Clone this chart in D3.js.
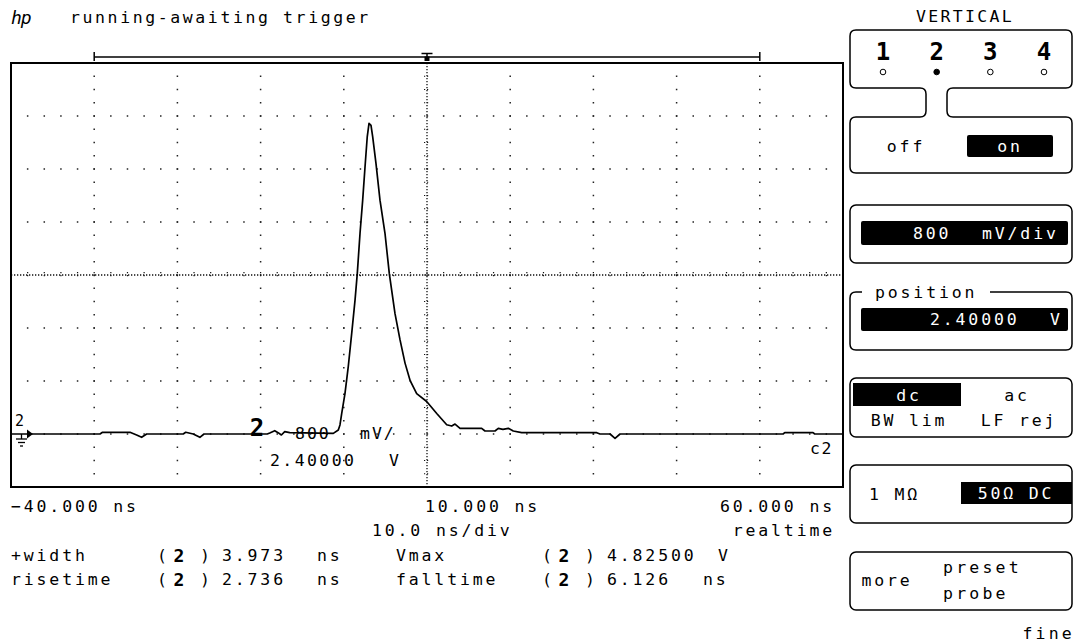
<!DOCTYPE html>
<html>
<head>
<meta charset="utf-8">
<script src="https://d3js.org/d3.v7.min.js"></script>
<style>
  body { margin: 0; background: #fff; }
  svg text { font-family: "DejaVu Sans Mono", monospace; }
</style>
</head>
<body>
<div id="scope"></div>
<script>
// channel 2 trace (ns, volts)
const timeNs = [-40, -29.3, -29.0, -25.7, -24.9, -24.3, -23.7, -19.3, -19.0, -18.1, -17.3, -16.8,
  -9.2, -8.9, -8.3, -7.9, -7.5, -7.1, -6.5, -1.26, -0.66, -0.46, -0.25, 0.14, 0.54, 0.95, 1.35,
  1.62, 1.95, 2.27, 2.55, 2.82, 3.03, 3.27, 3.47, 3.87, 4.35, 4.95, 5.47, 6.15, 6.76, 7.36, 7.96,
  8.76, 9.96, 11.17, 12.37, 12.97, 13.37, 13.97, 16.57, 16.97, 18.17, 18.57, 19.13, 19.77, 20.37,
  21.38, 30.4, 30.79, 32.0, 32.6, 33.2, 52.8, 53.0, 56.4, 56.6, 60];
const volts = [0, 0, 0.026, 0.026, -0.015, -0.05, 0, 0, 0.026, 0, -0.05, 0,
  0, 0.015, 0.05, 0.02, -0.015, 0.035, 0.02, 0.01, 0.06, 0.136, 0.31, 0.61, 1.02, 1.52, 2.02,
  2.42, 3.03, 3.53, 4.03, 4.49, 4.69, 4.66, 4.49, 4.08, 3.53, 3.03, 2.42, 1.82, 1.42, 1.07, 0.81,
  0.61, 0.49, 0.31, 0.14, 0.12, 0.15, 0.086, 0.086, 0.045, 0.045, 0.086, 0.07, 0.086, 0.045,
  0.02, 0.02, 0, 0, -0.065, 0, 0, 0.02, 0.02, 0, 0];

const timeTickValues = [-40, 10, 60];
const timeTickLabels = ["\u221240.000 ns", "10.000 ns", "60.000 ns"];
const measNames = ["+width", "risetime", "Vmax", "falltime"];
const measValues = ["3.973", "2.736", "4.82500", "6.126"];
const measUnits = ["ns", "ns", "V", "ns"];
const channels = ["1", "2", "3", "4"];
const activeChannel = "2";

const W = 1078, H = 642;
const plot = {left: 11, top: 63, right: 843, bottom: 487};

const x = d3.scaleLinear().domain([-40, 60]).range([plot.left, plot.right]);
const y = d3.scaleLinear().domain([-0.8, 5.6]).range([plot.bottom, plot.top]);

const svg = d3.select("#scope").append("svg")
    .attr("width", W).attr("height", H);
svg.append("rect").attr("width", W).attr("height", H).attr("fill", "#fff");

function label(g, px, py, str, o = {}) {
    return g.append("text")
        .attr("x", px).attr("y", py)
        .attr("dominant-baseline", "central")
        .attr("font-size", o.size || 16.5)
        .attr("letter-spacing", o.ls ?? 2.85)
        .attr("text-anchor", o.anchor || "start")
        .attr("font-weight", o.weight || "normal")
        .attr("font-family", o.family || null)
        .attr("font-style", o.style || null)
        .attr("fill", o.fill || "#000")
        .text(str);
}

// header
label(svg, 11, 17, "hp", {size: 18, ls: -1, style: "italic", family: "DejaVu Serif"});
label(svg, 70, 17, "running-awaiting trigger", {ls: 2.6});

// grid
const grid = svg.append("g");
const divT = d3.range(-40, 61, 10);
const divV = d3.range(0, 9).map(j => -0.8 + j * 0.8);
const minorT = d3.range(-40, 60.01, 2);
const minorV = d3.range(0, 33).map(j => -0.8 + j * 0.2);

divV.slice(1, -1).forEach((v, j) => {
    if (j === 3) return;
    grid.selectAll(null).data(minorT).join("rect")
        .attr("x", d => x(d) - 0.75).attr("y", y(v) - 0.75)
        .attr("width", 1.5).attr("height", 1.5).attr("fill", "#222");
});
divT.slice(1, -1).forEach((t, i) => {
    if (i === 4) return;
    grid.selectAll(null).data(minorV).join("rect")
        .attr("x", x(t) - 0.75).attr("y", d => y(d) - 0.75)
        .attr("width", 1.5).attr("height", 1.5).attr("fill", "#222");
});

// center axes, dense dotted with small cross ticks
const cx = x(10), cy = y(2.4);
grid.append("line").attr("x1", cx).attr("x2", cx).attr("y1", plot.top).attr("y2", plot.bottom)
    .attr("stroke", "#111").attr("stroke-width", 1.3).attr("stroke-dasharray", "1.3,1.7");
grid.append("line").attr("y1", cy).attr("y2", cy).attr("x1", plot.left).attr("x2", plot.right)
    .attr("stroke", "#111").attr("stroke-width", 1.3).attr("stroke-dasharray", "1.3,1.7");
grid.selectAll(null).data(minorV).join("line")
    .attr("x1", cx - 3).attr("x2", cx + 3).attr("y1", d => y(d)).attr("y2", d => y(d))
    .attr("stroke", "#111").attr("stroke-width", 1.2).attr("stroke-dasharray", "1.2,1.8");
grid.selectAll(null).data(minorT).join("line")
    .attr("y1", cy - 3).attr("y2", cy + 3).attr("x1", d => x(d)).attr("x2", d => x(d))
    .attr("stroke", "#111").attr("stroke-width", 1.2).attr("stroke-dasharray", "1.2,1.8");

// frame
svg.append("rect")
    .attr("x", plot.left).attr("y", plot.top)
    .attr("width", plot.right - plot.left).attr("height", plot.bottom - plot.top)
    .attr("fill", "none").attr("stroke", "#000").attr("stroke-width", 2);

// memory bar + trigger marker
const barY = 57;
svg.append("line").attr("x1", x(-30)).attr("x2", x(50)).attr("y1", barY).attr("y2", barY)
    .attr("stroke", "#000").attr("stroke-width", 1.5);
[x(-30), x(50)].forEach(px => svg.append("line").attr("x1", px).attr("x2", px)
    .attr("y1", barY - 5).attr("y2", barY + 4).attr("stroke", "#000").attr("stroke-width", 1.5));
svg.append("line").attr("x1", cx - 5.5).attr("x2", cx + 5.5).attr("y1", 53.5).attr("y2", 53.5)
    .attr("stroke", "#000").attr("stroke-width", 1.5);
svg.append("line").attr("x1", cx).attr("x2", cx).attr("y1", 53.5).attr("y2", 58)
    .attr("stroke", "#000").attr("stroke-width", 1.5);
svg.append("rect").attr("x", cx - 2.5).attr("y", 56.5).attr("width", 5).attr("height", 4.5).attr("fill", "#000");

// trace
const trace = timeNs.map((t, i) => [t, volts[i]]);
svg.append("path")
    .datum(trace)
    .attr("fill", "none").attr("stroke", "#000").attr("stroke-width", 1.7)
    .attr("stroke-linejoin", "round")
    .attr("d", d3.line().x(d => x(d[0])).y(d => y(d[1])));

// ground marker at left
const gy = y(0);
label(svg, 15, 421, "2", {size: 15, ls: 0});
svg.append("path").attr("d", `M27,${gy - 4.5} L33,${gy} L27,${gy + 4.5} Z`).attr("fill", "#000");
svg.append("line").attr("x1", 21.5).attr("x2", 21.5).attr("y1", gy).attr("y2", gy + 5)
    .attr("stroke", "#000").attr("stroke-width", 1.3);
[[16, 27, 5], [18, 25, 8.5], [20, 23, 12]].forEach(([a, b, dy]) =>
    svg.append("line").attr("x1", a).attr("x2", b).attr("y1", gy + dy).attr("y2", gy + dy)
        .attr("stroke", "#000").attr("stroke-width", 1.3));

// in-plot channel labels
label(svg, 257, 428, "2", {size: 24, ls: 0, weight: "bold", anchor: "middle", family: "DejaVu Sans"});
label(svg, 295, 433, "800", {ls: 2});
label(svg, 360, 433, "mV/", {ls: 2});
label(svg, 270, 460, "2.40000", {ls: 2.4});
label(svg, 389, 460, "V", {ls: 0});
label(svg, 810, 448, "c2", {ls: 1.5});

// time labels
label(svg, x(timeTickValues[0]), 506, timeTickLabels[0]);
label(svg, x(timeTickValues[1]) - 2, 506, timeTickLabels[1]);
label(svg, x(timeTickValues[2]) - 8, 506, timeTickLabels[2], {anchor: "end"});
label(svg, 372, 530, "10.0 ns/div");
label(svg, 835, 530, "realtime", {anchor: "end"});

// measurements
const rowsY = [555, 579];
measNames.forEach((nm, i) => {
    const col = i < 2 ? 0 : 1;
    const ry = rowsY[i % 2];
    const nx = col === 0 ? 11 : 396;
    const px = col === 0 ? 157 : 542;
    label(svg, nx, ry, nm);
    label(svg, px, ry, "(");
    label(svg, px + 22, ry, "2", {size: 18, ls: 0, weight: "bold", anchor: "middle", family: "DejaVu Sans"});
    label(svg, px + 43, ry, ")");
    label(svg, px + 65, ry, measValues[i]);
    const ux = col === 0 ? 317 : (measUnits[i] === "V" ? 718 : 703);
    label(svg, ux, ry, measUnits[i]);
});

// right-hand VERTICAL panel
const panel = svg.append("g");
const pL = 850, pR = 1072, r = 6;
const boxStroke = (sel) => sel.attr("fill", "none").attr("stroke", "#000").attr("stroke-width", 1.5);

label(panel, 965, 16, "VERTICAL", {anchor: "middle", ls: 2.3});

// channel select + on/off joined shape
const y0 = 30, y1 = 88, y2 = 117, y3 = 173, nL = 926, nR = 947;
panel.append("path").call(boxStroke).attr("d",
    `M${pL},${y0 + r} Q${pL},${y0} ${pL + r},${y0} H${pR - r} Q${pR},${y0} ${pR},${y0 + r}
     V${y1 - r} Q${pR},${y1} ${pR - r},${y1} H${nR + r} Q${nR},${y1} ${nR},${y1 + r}
     V${y2 - r} Q${nR},${y2} ${nR + r},${y2} H${pR - r} Q${pR},${y2} ${pR},${y2 + r}
     V${y3 - r} Q${pR},${y3} ${pR - r},${y3} H${pL + r} Q${pL},${y3} ${pL},${y3 - r}
     V${y2 + r} Q${pL},${y2} ${pL + r},${y2} H${nL - r} Q${nL},${y2} ${nL},${y2 - r}
     V${y1 + r} Q${nL},${y1} ${nL - r},${y1} H${pL + r} Q${pL},${y1} ${pL},${y1 - r} Z`);

const chX = d3.scalePoint().domain(channels).range([883, 1044]);
channels.forEach(c => {
    label(panel, chX(c), 52, c, {size: 24, ls: 0, weight: "bold", anchor: "middle"});
    panel.append("circle").attr("cx", chX(c)).attr("cy", 72).attr("r", 2.8)
        .attr("fill", c === activeChannel ? "#000" : "#fff").attr("stroke", "#000").attr("stroke-width", 1);
});
label(panel, 906, 146, "off", {anchor: "middle"});
panel.append("rect").attr("x", 967).attr("y", 135).attr("width", 86).attr("height", 22).attr("rx", 2).attr("fill", "#000");
label(panel, 1010, 146, "on", {anchor: "middle", fill: "#fff"});

// scale box
panel.append("rect").call(boxStroke).attr("x", pL).attr("y", 205).attr("width", pR - pL).attr("height", 58).attr("rx", r);
panel.append("rect").attr("x", 861).attr("y", 221).attr("width", 207).attr("height", 24).attr("rx", 2).attr("fill", "#000");
label(panel, 913, 233, "800", {fill: "#fff"});
label(panel, 982, 233, "mV/div", {fill: "#fff"});

// position box with title in the border
const py0 = 292, py1 = 350;
panel.append("path").call(boxStroke).attr("d",
    `M${pL + 12},${py0} H${pL + r} Q${pL},${py0} ${pL},${py0 + r} V${py1 - r} Q${pL},${py1} ${pL + r},${py1}
     H${pR - r} Q${pR},${py1} ${pR},${py1 - r} V${py0 + r} Q${pR},${py0} ${pR - r},${py0} H990`);
label(panel, 875, 292, "position");
panel.append("rect").attr("x", 861).attr("y", 308).attr("width", 207).attr("height", 23).attr("rx", 2).attr("fill", "#000");
label(panel, 930, 319, "2.40000", {fill: "#fff"});
label(panel, 1050, 319, "V", {fill: "#fff", ls: 0});

// coupling box
panel.append("rect").call(boxStroke).attr("x", pL).attr("y", 378).attr("width", pR - pL).attr("height", 59).attr("rx", r);
panel.append("rect").attr("x", 853).attr("y", 383).attr("width", 108).attr("height", 23).attr("fill", "#000");
label(panel, 909, 395, "dc", {fill: "#fff", anchor: "middle"});
label(panel, 1017, 395, "ac", {anchor: "middle"});
label(panel, 909, 420, "BW lim", {anchor: "middle"});
label(panel, 1019, 420, "LF rej", {anchor: "middle"});

// impedance box
panel.append("rect").call(boxStroke).attr("x", pL).attr("y", 465).attr("width", pR - pL).attr("height", 58).attr("rx", r);
label(panel, 869, 494, "1 MΩ");
panel.append("rect").attr("x", 961).attr("y", 482).attr("width", 111).attr("height", 22).attr("fill", "#000");
label(panel, 1016, 493, "50Ω DC", {fill: "#fff", anchor: "middle"});

// probe box
panel.append("rect").call(boxStroke).attr("x", pL).attr("y", 552).attr("width", pR - pL).attr("height", 58).attr("rx", r);
label(panel, 887, 580, "more", {anchor: "middle"});
label(panel, 943, 567, "preset", {ls: 3.2});
label(panel, 943, 593, "probe", {ls: 3.2});
label(panel, 1075, 633, "fine", {anchor: "end", ls: 3.2});
</script>
</body>
</html>
